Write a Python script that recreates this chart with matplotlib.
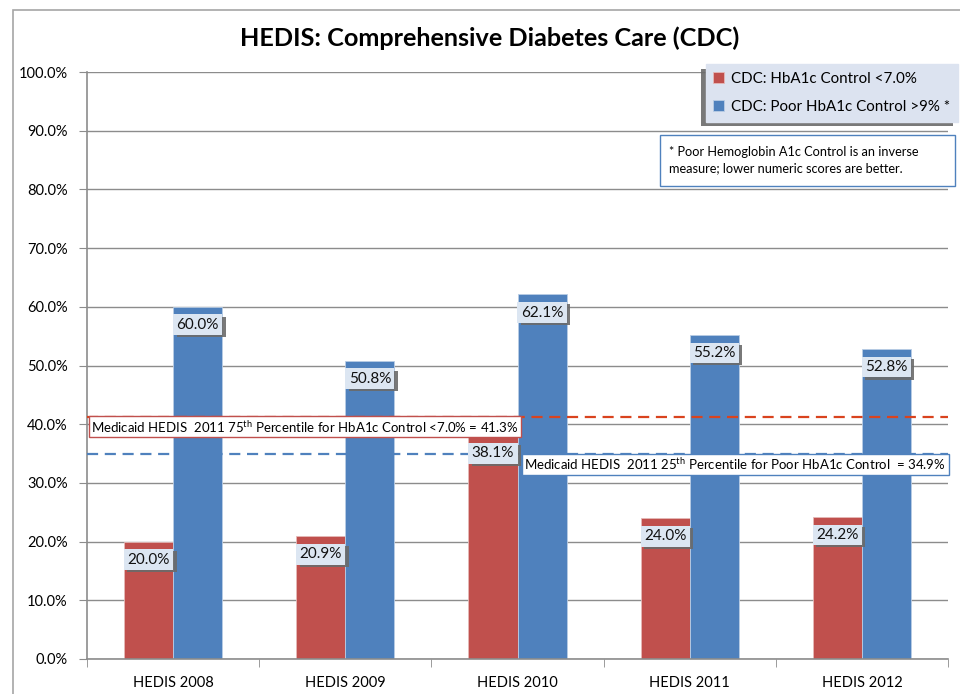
import matplotlib
matplotlib.use("Agg")
import matplotlib.pyplot as plt
import matplotlib.patheffects as pe
import numpy as np
from matplotlib.patches import Rectangle

plt.rcParams['font.family'] = ['Lato', 'DejaVu Sans']
plt.rcParams['mathtext.fontset'] = 'custom'
plt.rcParams['mathtext.rm'] = 'Lato'

# data
years = ['HEDIS 2008', 'HEDIS 2009', 'HEDIS 2010', 'HEDIS 2011', 'HEDIS 2012']
hba1c_control = [20.0, 20.9, 38.1, 24.0, 24.2]
poor_control = [60.0, 50.8, 62.1, 55.2, 52.8]
series_names = ['CDC: HbA1c Control <7.0%', 'CDC: Poor HbA1c Control >9% *']
p75_control = 41.3
p25_poor = 34.9

red = '#c0504d'
blue = '#4f81bd'
grid_col = '#8c8c8c'

fig = plt.figure(figsize=(9.6, 6.94), dpi=100)
ax = fig.add_axes([87/960, 1 - 659/694, (948-87)/960, (659-72)/694])

# outer frame
fig.patches.append(Rectangle((13/960, -0.1), 1.2, 1 - 10/694 + 0.1, transform=fig.transFigure,
                             fill=False, edgecolor='#a6a6a6', lw=1.2, zorder=0))

x = np.arange(len(years))
w = 0.285
b1 = ax.bar(x - w/2, hba1c_control, w, color=red, edgecolor='#e6b9b8', linewidth=0.6,
            label=series_names[0], zorder=2)
b2 = ax.bar(x + w/2, poor_control, w, color=blue, edgecolor='#b9cde5', linewidth=0.6,
            label=series_names[1], zorder=2)

ax.set_xlim(-0.5, len(years) - 0.5)
ax.set_ylim(0, 100)
ax.set_yticks(np.arange(0, 101, 10))
ax.set_yticklabels(['%.1f%%' % v for v in np.arange(0, 101, 10)], fontsize=10.5)
ax.set_xticks(x)
ax.set_xticklabels(years, fontsize=10.5)
ax.set_xticks(np.arange(-0.5, len(years)), minor=True)
ax.tick_params(axis='x', which='major', length=0, pad=12)
ax.tick_params(axis='x', which='minor', length=6, color=grid_col, direction='out')
ax.tick_params(axis='y', length=6, color=grid_col, pad=8)
ax.yaxis.grid(True, color=grid_col, lw=1, zorder=0)
ax.set_axisbelow(True)
for s in ['top', 'right']:
    ax.spines[s].set_visible(False)
for s in ['left', 'bottom']:
    ax.spines[s].set_color(grid_col)
    ax.spines[s].set_linewidth(1.2)

# value labels with shadowed boxes
shadow = [pe.SimplePatchShadow(offset=(2.5, -1.5), shadow_rgbFace='#6a6a6a', alpha=0.9), pe.Normal()]
for xs, vals in [(x - w/2, hba1c_control), (x + w/2, poor_control)]:
    for xi, v in zip(xs, vals):
        t = ax.annotate('%.1f%%' % v, (xi, v), xytext=(0, -13), textcoords='offset points',
                        ha='center', va='center', fontsize=11, color='#111111', zorder=5,
                        bbox=dict(boxstyle='square,pad=0.22', fc='#dce6f2', ec='none'))
        t.get_bbox_patch().set_path_effects(shadow)

# benchmark lines
ax.axhline(p75_control, color='#d9431e', ls=(0, (5, 3)), lw=1.6, zorder=3)
ax.axhline(p25_poor, color=blue, ls=(0, (5, 3)), lw=1.6, zorder=3)
ax.text(0.005, p75_control - 0.35,
        'Medicaid HEDIS  2011 75$^{\\mathrm{th}}$ Percentile for HbA1c Control <7.0%% = %.1f%%' % p75_control,
        transform=ax.get_yaxis_transform(), ha='left', va='top', fontsize=9.5, zorder=6,
        bbox=dict(boxstyle='square,pad=0.2', fc='white', ec=red, lw=1))
ax.text(0.508, p25_poor - 0.35,
        'Medicaid HEDIS  2011 25$^{\\mathrm{th}}$ Percentile for Poor HbA1c Control  = %.1f%%' % p25_poor,
        transform=ax.get_yaxis_transform(), ha='left', va='top', fontsize=9.5, zorder=6,
        bbox=dict(boxstyle='square,pad=0.2', fc='white', ec=blue, lw=1))

# legend with shadow on lower left
leg = ax.legend(loc='upper right', bbox_to_anchor=(958/960, 1 - 64/694),
                bbox_transform=fig.transFigure, fontsize=10.9, frameon=True, fancybox=False,
                handlelength=0.7, handleheight=0.7, handletextpad=0.5, labelspacing=0.95,
                borderpad=0.5, borderaxespad=0)
frame = leg.get_frame()
frame.set_facecolor('#dce3f0')
frame.set_edgecolor('#dce3f0')
frame.set_alpha(1)
frame.set_path_effects([pe.SimplePatchShadow(offset=(-3.5, -3.5), shadow_rgbFace='#6a6a6a', alpha=0.9),
                        pe.Normal()])
leg.set_zorder(7)

# note box
note_box = Rectangle((660/960, 1 - 186/694), 295/960, 51/694, transform=fig.transFigure,
                     fc='white', ec=blue, lw=1, zorder=8)
fig.patches.append(note_box)
fig.text(669/960, 1 - 160/694,
         '* Poor Hemoglobin A1c Control is an inverse\nmeasure; lower numeric scores are better.',
         ha='left', va='center', fontsize=9.2, linespacing=1.45, zorder=9)

fig.text(490/960, 1 - 38/694, 'HEDIS: Comprehensive Diabetes Care (CDC)',
         ha='center', va='center', fontsize=18.2, fontweight='bold')

fig.savefig('out.png', dpi=100)
